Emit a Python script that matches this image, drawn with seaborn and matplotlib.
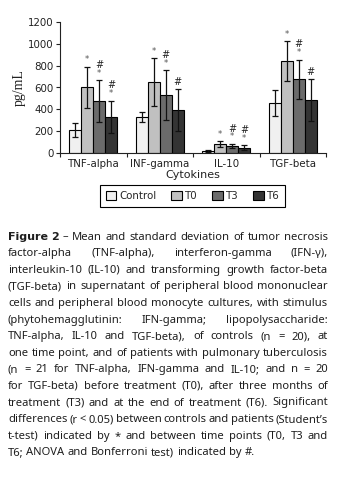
import matplotlib
matplotlib.use("Agg")
import matplotlib.pyplot as plt
import seaborn as sns
import pandas as pd
import numpy as np
from matplotlib.patches import Patch

# ---- data ----
cytokines = ["TNF-alpha", "INF-gamma", "IL-10", "TGF-beta"]
groups = ["Control", "T0", "T3", "T6"]
control_mean = [210, 330, 20, 458]
t0_mean = [600, 648, 83, 840]
t3_mean = [475, 530, 63, 675]
t6_mean = [330, 395, 48, 485]
control_sd = [63, 48, 8, 115]
t0_sd = [192, 218, 25, 185]
t3_sd = [190, 228, 20, 180]
t6_sd = [150, 190, 25, 190]
star_marks = {"Control": [0, 0, 0, 0], "T0": [1, 1, 1, 1], "T3": [1, 1, 1, 1], "T6": [1, 0, 1, 0]}
hash_marks = {"Control": [0, 0, 0, 0], "T0": [0, 0, 0, 0], "T3": [1, 1, 1, 1], "T6": [1, 1, 1, 1]}
yticks = [0, 200, 400, 600, 800, 1000, 1200]
colors = ["#f0f0f0", "#c0c0c0", "#6b6b6b", "#343434"]

means = {"Control": control_mean, "T0": t0_mean, "T3": t3_mean, "T6": t6_mean}
sds = {"Control": control_sd, "T0": t0_sd, "T3": t3_sd, "T6": t6_sd}
rows = []
for g in groups:
    for c, m in zip(cytokines, means[g]):
        rows.append({"Cytokine": c, "Group": g, "value": m})
df = pd.DataFrame(rows)

sns.set_theme(style="white")
plt.rcParams["font.family"] = ["DejaVu Sans"]

W, H = 340, 478
fig = plt.figure(figsize=(W / 100, H / 100), dpi=100)
fig.patch.set_facecolor("white")
ax = fig.add_axes([60 / W, 1 - 153 / H, (326 - 60) / W, (153 - 22) / H])

sns.barplot(data=df, x="Cytokine", y="value", hue="Group", order=cytokines,
            hue_order=groups, palette=colors, width=0.72, errorbar=None,
            edgecolor="black", linewidth=0.8, ax=ax, legend=False)

bar_containers = list(ax.containers)
for i, cont in enumerate(bar_containers):
    g = groups[i]
    for j, bar in enumerate(cont):
        xc = bar.get_x() + bar.get_width() / 2
        m = means[g][j]
        s = sds[g][j]
        ax.errorbar(xc, m, yerr=s, fmt="none", ecolor="#111111", elinewidth=0.9,
                    capsize=2.2, capthick=0.9, zorder=5)
        top = m + s
        off = 5
        if star_marks[g][j]:
            ax.annotate("*", (xc, top), xytext=(0, off), textcoords="offset points",
                        ha="center", va="center", fontsize=6, color="#555555")
            off += 6
        if hash_marks[g][j]:
            ax.annotate("#", (xc, top), xytext=(0, off), textcoords="offset points",
                        ha="center", va="center", fontsize=7, color="#222222")

ax.set_xlim(-0.5, 3.5)
ax.set_ylim(0, 1200)
ax.set_yticks(yticks)
ax.set_yticklabels([str(v) for v in yticks], fontsize=7.4, color="#222222")
ax.set_xticks(range(len(cytokines)))
ax.set_xticklabels(cytokines, fontsize=7.4, color="#222222")
ax.set_xticks(np.arange(-0.5, 4, 1), minor=True)
ax.tick_params(axis="x", which="major", length=0, pad=4)
ax.tick_params(axis="x", which="minor", length=3, width=0.8, color="#222222", direction="out", bottom=True)
ax.tick_params(axis="y", length=3, width=0.8, color="#222222", direction="out", left=True, pad=1.5)
for sp in ["top", "right"]:
    ax.spines[sp].set_visible(False)
for sp in ["left", "bottom"]:
    ax.spines[sp].set_color("#222222")
    ax.spines[sp].set_linewidth(0.8)
ax.set_xlabel("Cytokines", fontsize=8, color="#222222", labelpad=1)
ax.set_ylabel("pg/mL", fontsize=10, color="#222222", family="Liberation Serif", labelpad=2)

handles = [Patch(facecolor=c, edgecolor="black", linewidth=0.8, label=g) for c, g in zip(colors, groups)]
leg = fig.legend(handles=handles, loc="center", bbox_to_anchor=(192.5 / W, 1 - 196 / H), ncol=4,
                 fontsize=7.4, frameon=True, fancybox=False, edgecolor="black", framealpha=1,
                 handlelength=1.0, handleheight=1.0, handletextpad=0.25, columnspacing=1.5,
                 borderpad=0.6)
leg.get_frame().set_linewidth(0.8)

# ---- caption (justified) ----
lines = [
    "**Figure 2** – Mean and standard deviation of tumor necrosis",
    "factor-alpha (TNF-alpha), interferon-gamma (IFN-γ),",
    "interleukin-10 (IL-10) and transforming growth factor-beta",
    "(TGF-beta) in supernatant of peripheral blood mononuclear",
    "cells and peripheral blood monocyte cultures, with stimulus",
    "(phytohemagglutinin: IFN-gamma; lipopolysaccharide:",
    "TNF-alpha, IL-10 and TGF-beta), of controls (n = 20), at",
    "one time point, and of patients with pulmonary tuberculosis",
    "(n = 21 for TNF-alpha, IFN-gamma and IL-10; and n = 20",
    "for TGF-beta) before treatment (T0), after three months of",
    "treatment (T3) and at the end of treatment (T6). Significant",
    "differences (r < 0.05) between controls and patients (Student’s",
    "t-test) indicated by * and between time points (T0, T3 and",
    "T6; ANOVA and Bonferroni test) indicated by #.",
]
cap_font = "Noto Sans"
bold_font = "DejaVu Sans"
fig.canvas.draw()
rend = fig.canvas.get_renderer()


def text_w(s, size, bold=False):
    t = fig.text(0, 0, s, fontsize=size, family=bold_font if bold else cap_font,
                 weight="bold" if bold else "normal")
    w = t.get_window_extent(rend).width
    t.remove()
    return w


def parse(line):
    words = []
    bold = False
    for tok in line.split(" "):
        b = bold
        if tok.startswith("**"):
            tok = tok[2:]
            b = True
            bold = True
        if tok.endswith("**"):
            tok = tok[:-2]
            bold = False
        words.append((tok, b))
    return words


x0, x1 = 8, 328
probe = 8.0
words12 = parse(lines[11])
w12 = sum(text_w(w, probe) for w, _ in words12)
sp_probe = (text_w("a b", probe) - text_w("ab", probe)) * 0.75
size = probe * (x1 - x0) / (w12 + sp_probe * (len(words12) - 1))
y_first, y_step = 237, 16.6
for li, line in enumerate(lines):
    words = parse(line)
    ws = [text_w(w, size, b) for w, b in words]
    last = li == len(lines) - 1
    sp = text_w("a b", size) - text_w("ab", size)
    if last:
        gap = sp
    else:
        gap = (x1 - x0 - sum(ws)) / (len(words) - 1)
    x = x0
    y = y_first + li * y_step
    for (w, b), wd in zip(words, ws):
        fig.text(x / W, 1 - y / H, w, fontsize=size, family=bold_font if b else cap_font,
                 weight="bold" if b else "normal", color="#1e1e1e", va="center", ha="left")
        x += wd + gap

fig.savefig("out.png", dpi=100, facecolor="white")
